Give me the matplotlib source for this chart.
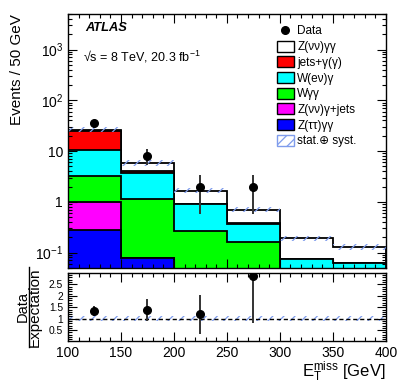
import numpy as np
import matplotlib
matplotlib.use('Agg')
import matplotlib.pyplot as plt
from matplotlib.patches import Patch
from matplotlib.lines import Line2D
from matplotlib.ticker import MultipleLocator, FixedLocator, FixedFormatter, LogLocator, NullFormatter

plt.rcParams['font.family'] = ['Liberation Sans', 'DejaVu Sans']
plt.rcParams['mathtext.fontset'] = 'custom'
plt.rcParams['mathtext.rm'] = 'Liberation Sans'
plt.rcParams['mathtext.it'] = 'Liberation Sans:italic'
plt.rcParams['hatch.linewidth'] = 0.9

# binning (GeV)
edges = [100, 150, 200, 250, 300, 350, 400]

# background components per bin (stacked bottom -> top)
z_tautau_gg = [0.28, 0.078, 0, 0, 0, 0]
z_nunu_g_jets = [0.73, 0, 0, 0, 0, 0]
w_gg = [2.2, 1.04, 0.27, 0.16, 0, 0]
w_enu_g = [7.1, 2.55, 0.64, 0.20, 0.075, 0.063]
jets_g = [14.0, 0.35, 0, 0.03, 0, 0]
z_nunu_gg = [2.0, 1.8, 0.75, 0.31, 0.117, 0.066]

# relative stat+syst uncertainty on the total
unc_rel = [0.11, 0.12, 0.12, 0.12, 0.12, 0.12]

# data
data_x = [125, 175, 225, 275]
data_y = [35, 8, 2, 2]
data_err_lo = [5.9, 2.8, 1.43, 1.43]
data_err_hi = [5.9, 2.8, 1.4, 1.4]

components = [
    (z_tautau_gg, '#0000ff', 'Z(ττ)γγ'),
    (z_nunu_g_jets, '#ff00ff', 'Z(νν)γ+jets'),
    (w_gg, '#00ff00', 'Wγγ'),
    (w_enu_g, '#00ffff', 'W(eν)γ'),
    (jets_g, '#ff0000', 'jets+γ(γ)'),
    (z_nunu_gg, '#ffffff', 'Z(νν)γγ'),
]

fig = plt.figure(figsize=(4.07, 3.91), dpi=100)
ax = fig.add_axes([0.167, 0.315, 0.781, 0.649])
rax = fig.add_axes([0.167, 0.128, 0.781, 0.174])

# stacked histogram: draw cumulative sums from the top one down
cums = np.cumsum([np.array(c[0], dtype=float) for c in components], axis=0)
floor = 1e-3
for i in reversed(range(len(components))):
    ax.stairs(np.maximum(cums[i], floor), edges, baseline=floor, fill=True,
              facecolor=components[i][1], edgecolor='black', linewidth=1.3)

total = cums[-1]
unc_col = '#7f9cec'
ax.stairs(total * (1 + np.array(unc_rel)), edges, baseline=total * (1 - np.array(unc_rel)),
          fill=True, facecolor='none', edgecolor=unc_col, hatch='///', linewidth=0)

ax.errorbar(data_x, data_y, yerr=[data_err_lo, data_err_hi], fmt='o', color='black',
            markersize=5.5, ecolor='#333333', elinewidth=1.4, capsize=0, zorder=5)

ax.set_yscale('log')
ax.set_xlim(100, 400)
ax.set_ylim(0.05, 5000)
ax.set_ylabel('Events / 50 GeV', fontsize=11, loc='top')
ax.yaxis.set_label_coords(-0.138, 1.0)

ax.yaxis.set_major_locator(FixedLocator([0.1, 1, 10, 100, 1000]))
ax.yaxis.set_major_formatter(FixedFormatter([r'$10^{-1}$', '1', '10', r'$10^{2}$', r'$10^{3}$']))
ax.yaxis.set_minor_locator(LogLocator(base=10, subs=np.arange(2, 10), numticks=20))
ax.yaxis.set_minor_formatter(NullFormatter())
ax.xaxis.set_major_locator(MultipleLocator(50))
ax.xaxis.set_minor_locator(MultipleLocator(10))
ax.tick_params(axis='x', labelbottom=False)

for a in (ax, rax):
    a.tick_params(which='both', direction='in', top=True, right=True, labelsize=10)
    a.tick_params(which='major', length=6.5, width=0.8)
    a.tick_params(which='minor', length=3.2, width=0.8)
    for s in a.spines.values():
        s.set_linewidth(1.0)
rax.tick_params(axis='y', labelsize=7.4)

ax.text(0.053, 0.97, 'ATLAS', transform=ax.transAxes, fontsize=9.3, fontweight='bold',
        fontstyle='italic', va='top')
ax.text(0.048, 0.862, '√s = 8 TeV, 20.3 fb$^{-1}$', transform=ax.transAxes,
        fontsize=9, va='top')

handles = [Line2D([], [], marker='o', color='black', linestyle='none', markersize=5.5)]
labels = ['Data']
for vals, col, lab in reversed(components):
    handles.append(Patch(facecolor=col, edgecolor='black', linewidth=1.0))
    labels.append(lab)
handles.append(Patch(facecolor='white', edgecolor=unc_col, hatch='///', linewidth=1.0))
labels.append('stat.\u2295 syst.')
ax.legend(handles, labels, loc='upper left', bbox_to_anchor=(0.657, 0.957), frameon=False,
          fontsize=8.5, handlelength=1.45, handleheight=1.05, labelspacing=0.27,
          handletextpad=0.29, borderaxespad=0, borderpad=0)

# ratio panel
rax.stairs(1 + np.array(unc_rel), edges, baseline=1 - np.array(unc_rel), fill=True,
           facecolor='none', edgecolor=unc_col, hatch='///', linewidth=0)
rax.axhline(1, color='black', linestyle=(0, (3, 2)), linewidth=1.0)
idx = [edges.index(x - 25) for x in data_x]
tot_at = total[idx]
rax.errorbar(data_x, np.array(data_y) / tot_at,
             yerr=[np.array(data_err_lo) / tot_at, np.array(data_err_hi) / tot_at],
             fmt='o', color='black', markersize=5.5, ecolor='#333333', elinewidth=1.4,
             capsize=0, zorder=5)
rax.set_xlim(100, 400)
rax.set_ylim(0.03, 3.0)
rax.yaxis.set_major_locator(FixedLocator([0.5, 1, 1.5, 2, 2.5]))
rax.yaxis.set_major_formatter(FixedFormatter(['0.5', '1', '1.5', '2', '2.5']))
rax.yaxis.set_minor_locator(MultipleLocator(0.1))
rax.xaxis.set_major_locator(MultipleLocator(50))
rax.xaxis.set_minor_locator(MultipleLocator(10))
rax.set_xlabel(r'$\mathrm{E}_{\mathrm{T}}^{\mathrm{miss}}$ [GeV]', fontsize=12, loc='right')
rax.xaxis.set_label_coords(1.0, -0.28)

# ratio y label drawn as a fraction
W, H = 407.0, 391.0
fig.text(22.5 / W, 1 - 306 / H, 'Data', rotation=90, ha='center', va='center', fontsize=10.5)
fig.text(35 / W, 1 - 307 / H, 'Expectation', rotation=90, ha='center', va='center', fontsize=11)
fig.add_artist(Line2D([28.5 / W, 28.5 / W], [1 - 267 / H, 1 - 347 / H], color='black',
                      linewidth=1.0, transform=fig.transFigure))

fig.savefig('out.png', dpi=100)
